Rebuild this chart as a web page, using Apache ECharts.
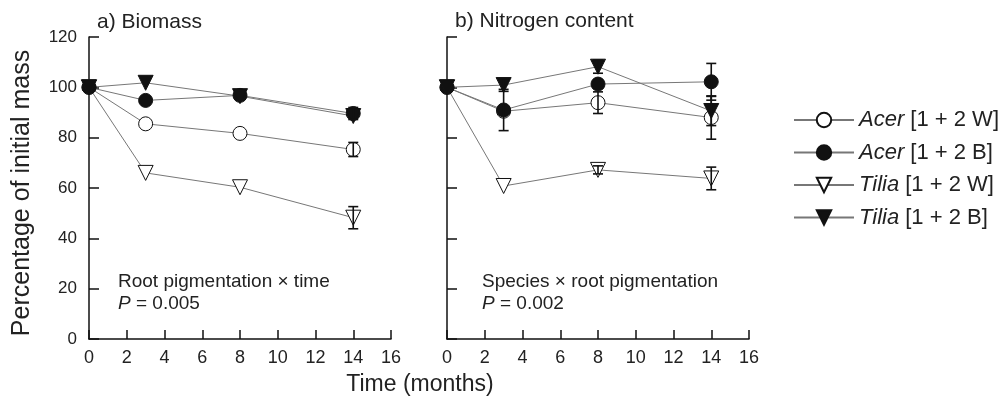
<!DOCTYPE html>
<html>
<head>
<meta charset="utf-8">
<script src="https://cdn.jsdelivr.net/npm/echarts@6/dist/echarts.min.js"></script>
<style>
  html, body { margin: 0; padding: 0; background: #fff; }
  #chart { width: 1004px; height: 403px; }
</style>
</head>
<body>
<div id="chart"></div>
<script>
// months at which samples were taken
const months = [0, 3, 8, 14]
const xTicks = [0, 2, 4, 6, 8, 10, 12, 14, 16]
const yTicks = [0, 20, 40, 60, 80, 100, 120]

const seriesNames = ['Acer [1 + 2 W]', 'Acer [1 + 2 B]', 'Tilia [1 + 2 W]', 'Tilia [1 + 2 B]']

// a) biomass, % of initial
const acerW_bio = [100, 85.5, 81.7, 75.3]
const acerB_bio = [100, 94.8, 96.8, 89.6]
const tiliaW_bio = [100, 66.0, 60.3, 48.2]
const tiliaB_bio = [100, 101.8, 96.5, 88.6]
// half width of the error bars (0 = hidden behind the marker)
const acerW_bioErr = [0, 0, 0, 2.8]
const acerB_bioErr = [0, 0, 0, 2.4]
const tiliaW_bioErr = [0, 0, 0, 4.4]
const tiliaB_bioErr = [0, 0, 0, 0]

// b) nitrogen content, % of initial
const acerW_n = [100, 90.5, 93.9, 88.0]
const acerB_n = [100, 91.0, 101.3, 102.2]
const tiliaW_n = [100, 60.8, 67.2, 63.8]
const tiliaB_n = [100, 100.9, 108.2, 90.6]
const acerW_nErr = [0, 0, 4.3, 8.6]
const acerB_nErr = [0, 8.2, 0, 7.3]
const tiliaW_nErr = [0, 0, 1.6, 4.5]
const tiliaB_nErr = [0, 2.5, 2.6, 5.8]

const FONT = 'Liberation Sans, Arial, Helvetica, sans-serif'

const markers = [
  { symbol: 'circle', rotate: 0, fill: '#fff' },
  { symbol: 'circle', rotate: 0, fill: '#111' },
  { symbol: 'triangle', rotate: 180, fill: '#fff' },
  { symbol: 'triangle', rotate: 180, fill: '#111' }
]

function pairs(values) {
  return months.map((m, i) => [m, values[i]])
}

function lineSeries(idx, values, gridIndex) {
  const mk = markers[idx]
  return {
    name: seriesNames[idx],
    type: 'line',
    xAxisIndex: gridIndex,
    yAxisIndex: gridIndex,
    data: pairs(values),
    symbol: mk.symbol,
    symbolRotate: mk.rotate,
    symbolSize: mk.symbol === 'circle' ? 14 : 15,
    showSymbol: true,
    lineStyle: { color: '#777', width: 1 },
    itemStyle: { color: mk.fill, borderColor: '#111', borderWidth: 1 },
    emphasis: { disabled: true },
    animation: false,
    z: 2
  }
}

function errorSeries(values, errs, gridIndex) {
  const data = []
  months.forEach((m, i) => {
    if (errs[i] > 0) data.push([m, values[i] - errs[i], values[i] + errs[i]])
  })
  return {
    type: 'custom',
    xAxisIndex: gridIndex,
    yAxisIndex: gridIndex,
    data: data,
    renderItem(params, api) {
      const lo = api.coord([api.value(0), api.value(1)])
      const hi = api.coord([api.value(0), api.value(2)])
      const w = 5
      const st = { stroke: '#111', lineWidth: 1.6 }
      return {
        type: 'group',
        children: [
          { type: 'line', shape: { x1: lo[0], y1: lo[1], x2: hi[0], y2: hi[1] }, style: st },
          { type: 'line', shape: { x1: lo[0] - w, y1: lo[1], x2: lo[0] + w, y2: lo[1] }, style: st },
          { type: 'line', shape: { x1: hi[0] - w, y1: hi[1], x2: hi[0] + w, y2: hi[1] }, style: st }
        ]
      }
    },
    silent: true,
    animation: false,
    z: 3
  }
}

function xAxis(gridIndex) {
  return {
    type: 'value',
    gridIndex: gridIndex,
    min: xTicks[0],
    max: xTicks[xTicks.length - 1],
    interval: 2,
    axisLine: { lineStyle: { color: '#111', width: 1.5 } },
    axisTick: { inside: true, length: 9, lineStyle: { color: '#111', width: 1.5 } },
    axisLabel: { color: '#222', fontSize: 18, fontFamily: FONT, margin: 10 },
    splitLine: { show: false }
  }
}

function yAxis(gridIndex, labels) {
  return {
    type: 'value',
    gridIndex: gridIndex,
    min: yTicks[0],
    max: yTicks[yTicks.length - 1],
    interval: 20,
    axisLine: { show: true, lineStyle: { color: '#111', width: 1.5 } },
    axisTick: { show: true, inside: true, length: 10, lineStyle: { color: '#111', width: 1.5 } },
    axisLabel: { show: labels, color: '#222', fontSize: 17, fontFamily: FONT, margin: 12 },
    splitLine: { show: false }
  }
}

const chart = echarts.init(document.getElementById('chart'))

const series = [
  lineSeries(0, acerW_bio, 0),
  lineSeries(1, acerB_bio, 0),
  lineSeries(2, tiliaW_bio, 0),
  lineSeries(3, tiliaB_bio, 0),
  lineSeries(0, acerW_n, 1),
  lineSeries(1, acerB_n, 1),
  lineSeries(2, tiliaW_n, 1),
  lineSeries(3, tiliaB_n, 1),
  errorSeries(acerW_bio, acerW_bioErr, 0),
  errorSeries(acerB_bio, acerB_bioErr, 0),
  errorSeries(tiliaW_bio, tiliaW_bioErr, 0),
  errorSeries(tiliaB_bio, tiliaB_bioErr, 0),
  errorSeries(acerW_n, acerW_nErr, 1),
  errorSeries(acerB_n, acerB_nErr, 1),
  errorSeries(tiliaW_n, tiliaW_nErr, 1),
  errorSeries(tiliaB_n, tiliaB_nErr, 1)
]

function textEl(x, y, text, size, align, rotation) {
  return {
    type: 'text',
    x: x,
    y: y,
    rotation: rotation || 0,
    silent: true,
    style: {
      text: text,
      fill: '#222',
      font: size + 'px ' + FONT,
      align: align || 'left',
      verticalAlign: 'middle',
      rich: { i: { fontStyle: 'italic', fontSize: size, fontFamily: FONT, fill: '#222' } }
    }
  }
}

chart.setOption({
  backgroundColor: '#fff',
  animation: false,
  grid: [
    { left: 89, top: 37, width: 302, height: 302 },
    { left: 447, top: 37, width: 302, height: 302 }
  ],
  xAxis: [xAxis(0), xAxis(1)],
  yAxis: [yAxis(0, true), yAxis(1, false)],
  legend: {
    data: seriesNames,
    orient: 'vertical',
    left: 793,
    top: 109,
    padding: 0,
    itemWidth: 60,
    itemHeight: 18,
    itemGap: 10.5,
    selectedMode: false,
    textStyle: {
      color: '#222',
      fontSize: 22,
      fontFamily: FONT,
      rich: { i: { fontStyle: 'italic', fontSize: 22, fontFamily: FONT, color: '#222' } }
    },
    formatter(name) {
      const sp = name.indexOf(' ')
      return '{i|' + name.slice(0, sp) + '}' + name.slice(sp)
    }
  },
  graphic: [
    textEl(97, 22, 'a) Biomass', 21),
    textEl(455, 21, 'b) Nitrogen content', 21),
    textEl(118, 282, 'Root pigmentation \u00d7 time', 19),
    textEl(118, 304, '{i|P} = 0.005', 19),
    textEl(482, 282, 'Species \u00d7 root pigmentation', 19),
    textEl(482, 304, '{i|P} = 0.002', 19),
    textEl(420, 385, 'Time (months)', 23, 'center'),
    textEl(22, 193, 'Percentage of initial mass', 25, 'center', Math.PI / 2)
  ],
  series: series
})
</script>
</body>
</html>
